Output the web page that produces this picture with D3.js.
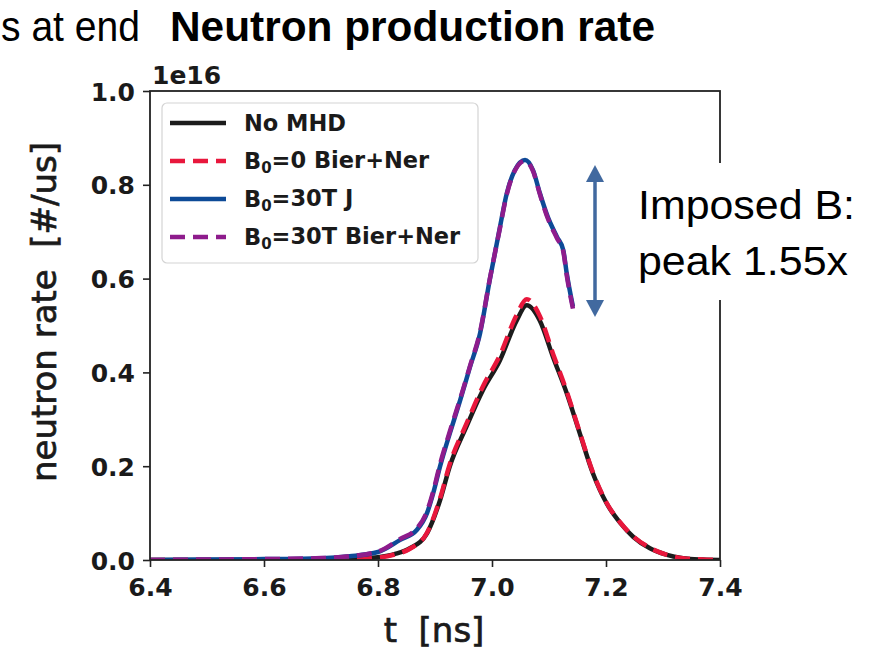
<!DOCTYPE html>
<html>
<head>
<meta charset="utf-8">
<script src="https://cdn.jsdelivr.net/npm/d3@7"></script>
<style>
  html, body { margin: 0; padding: 0; background: #fff; }
  svg { display: block; }
  text { white-space: pre; }
</style>
</head>
<body>
<svg id="chart" width="871" height="651"></svg>
<script>
// Time samples [ns] and neutron rates [1e16 #/us]
const tBase = [6.4, 6.5, 6.6, 6.7, 6.75, 6.8, 6.83, 6.856, 6.886, 6.909, 6.926, 6.955, 6.984, 7.014, 7.043, 7.061, 7.084, 7.107, 7.131, 7.154, 7.177, 7.201, 7.225, 7.248, 7.277, 7.307, 7.335, 7.37, 7.4];
const noMHD = [0, 0, 0.0005, 0.001, 0.002, 0.006, 0.013, 0.025, 0.057, 0.128, 0.2, 0.284, 0.362, 0.426, 0.51, 0.543, 0.51, 0.433, 0.356, 0.27, 0.185, 0.121, 0.079, 0.049, 0.025, 0.011, 0.004, 0.001, 0];
const b0BierNer = [0, 0, 0.0005, 0.001, 0.002, 0.005, 0.012, 0.024, 0.058, 0.132, 0.205, 0.29, 0.37, 0.437, 0.522, 0.556, 0.52, 0.44, 0.36, 0.272, 0.187, 0.122, 0.08, 0.05, 0.026, 0.011, 0.004, 0.001, 0];

const tMHD = [6.4, 6.5, 6.6, 6.7, 6.75, 6.8, 6.839, 6.868, 6.886, 6.897, 6.909, 6.926, 6.944, 6.961, 6.979, 6.996, 7.014, 7.026, 7.04, 7.058, 7.072, 7.084, 7.098, 7.114, 7.125, 7.131, 7.142];
const b30J = [0, 0.001, 0.002, 0.004, 0.008, 0.017, 0.043, 0.064, 0.1, 0.143, 0.2, 0.27, 0.34, 0.41, 0.483, 0.597, 0.71, 0.782, 0.831, 0.853, 0.831, 0.782, 0.731, 0.689, 0.661, 0.612, 0.54];
const b30BierNer = [0, 0.001, 0.002, 0.004, 0.008, 0.018, 0.045, 0.067, 0.104, 0.147, 0.205, 0.274, 0.343, 0.412, 0.486, 0.598, 0.708, 0.78, 0.83, 0.851, 0.829, 0.78, 0.728, 0.686, 0.658, 0.608, 0.536];

const xTicks = [6.4, 6.6, 6.8, 7.0, 7.2, 7.4];
const yTicks = [0.0, 0.2, 0.4, 0.6, 0.8, 1.0];

const seriesNames = ["No MHD", "B0=0 Bier+Ner", "B0=30T J", "B0=30T Bier+Ner"];
const seriesColors = ["#1c1c1c", "#e8173c", "#0d4a97", "#8e1c8c"];
const seriesDash = [null, "15,8", null, "15,8"];

const series = [
  { name: seriesNames[0], t: tBase, v: noMHD },
  { name: seriesNames[1], t: tBase, v: b0BierNer },
  { name: seriesNames[2], t: tMHD, v: b30J },
  { name: seriesNames[3], t: tMHD, v: b30BierNer }
];

const svg = d3.select("#chart");
const plotL = 150, plotR = 720, plotT = 91, plotB = 560;

const x = d3.scaleLinear().domain([6.4, 7.4]).range([plotL, plotR]);
const y = d3.scaleLinear().domain([0, 1.0]).range([plotB, plotT]);

const tickFont = "DejaVu Sans, sans-serif";
const slideFont = "Liberation Sans Narrow, Liberation Sans, sans-serif";

// Slide title text
svg.append("text")
  .attr("x", 1).attr("y", 41)
  .attr("font-family", slideFont)
  .attr("font-size", 42)
  .attr("textLength", 139).attr("lengthAdjust", "spacingAndGlyphs")
  .text("s at end");
svg.append("text")
  .attr("x", 170).attr("y", 41)
  .attr("font-family", slideFont)
  .attr("font-weight", "bold")
  .attr("font-size", 42)
  .attr("textLength", 485).attr("lengthAdjust", "spacingAndGlyphs")
  .text("Neutron production rate");

// Curves
const line = d3.line()
  .x(d => x(d[0]))
  .y(d => y(d[1]))
  .curve(d3.curveMonotoneX);

const plot = svg.append("g");
plot.append("clipPath").attr("id", "clip")
  .append("rect").attr("x", plotL).attr("y", plotT).attr("width", plotR - plotL).attr("height", plotB - plotT);

series.forEach((s, i) => {
  plot.append("path")
    .datum(s.t.map((tt, j) => [tt, s.v[j]]))
    .attr("clip-path", "url(#clip)")
    .attr("fill", "none")
    .attr("stroke", seriesColors[i])
    .attr("stroke-width", 4.5)
    .attr("stroke-dasharray", seriesDash[i])
    .attr("stroke-linejoin", "round")
    .attr("d", line);
});

// Axes
const xAxis = svg.append("g")
  .attr("transform", `translate(0,${plotB})`)
  .call(d3.axisBottom(x).tickValues(xTicks).tickFormat(d3.format(".1f")).tickSize(7).tickPadding(6));
const yAxis = svg.append("g")
  .attr("transform", `translate(${plotL},0)`)
  .call(d3.axisLeft(y).tickValues(yTicks).tickFormat(d3.format(".1f")).tickSize(7).tickPadding(8));

[xAxis, yAxis].forEach(a => {
  a.select(".domain").remove();
  a.selectAll(".tick line").attr("stroke", "#222").attr("stroke-width", 1.6);
  a.selectAll(".tick text")
    .attr("font-family", tickFont)
    .attr("font-weight", "bold")
    .attr("font-size", 25)
    .attr("fill", "#1a1a1a");
});
yAxis.selectAll(".tick text").attr("dy", "0.36em");
xAxis.selectAll(".tick text").attr("dy", "0.92em");

// Frame
svg.append("rect")
  .attr("x", plotL).attr("y", plotT)
  .attr("width", plotR - plotL).attr("height", plotB - plotT)
  .attr("fill", "none").attr("stroke", "#222").attr("stroke-width", 1.8);

// Offset label
svg.append("text")
  .attr("x", 152).attr("y", 84)
  .attr("font-family", tickFont).attr("font-weight", "bold").attr("font-size", 25)
  .attr("fill", "#1a1a1a")
  .text("1e16");

// Axis titles
svg.append("text")
  .attr("x", 434).attr("y", 642)
  .attr("text-anchor", "middle")
  .attr("font-family", tickFont).attr("font-size", 34)
  .attr("fill", "#1a1a1a").attr("stroke", "#1a1a1a").attr("stroke-width", 0.7)
  .text("t  [ns]");
svg.append("text")
  .attr("transform", "translate(56,312) rotate(-90)")
  .attr("text-anchor", "middle")
  .attr("font-family", tickFont).attr("font-size", 34)
  .attr("fill", "#1a1a1a").attr("stroke", "#1a1a1a").attr("stroke-width", 0.7)
  .text("neutron rate  [#/us]");

// Legend
const legend = svg.append("g");
legend.append("rect")
  .attr("x", 162).attr("y", 103).attr("width", 316).attr("height", 160)
  .attr("rx", 5)
  .attr("fill", "#fff").attr("stroke", "#d4d4d4").attr("stroke-width", 1.2);
series.forEach((s, i) => {
  const ly = 123 + i * 38;
  legend.append("line")
    .attr("x1", 170).attr("x2", 226).attr("y1", ly).attr("y2", ly)
    .attr("stroke", seriesColors[i]).attr("stroke-width", 4.5)
    .attr("stroke-dasharray", seriesDash[i]);
  const txt = legend.append("text")
    .attr("x", 244).attr("y", ly).attr("dy", "0.36em")
    .attr("font-family", tickFont).attr("font-weight", "bold").attr("font-size", 22.5)
    .attr("fill", "#1a1a1a");
  if (s.name.startsWith("B0")) {
    txt.append("tspan").text("B");
    txt.append("tspan").attr("font-size", 15).attr("dy", "0.25em").text("0");
    txt.append("tspan").attr("dy", "-0.2em").text(s.name.slice(2));
  } else {
    txt.text(s.name);
  }
});

// Annotation box, arrow and text
svg.append("rect")
  .attr("x", 618).attr("y", 163).attr("width", 253).attr("height", 137)
  .attr("fill", "#fff");

const arrowColor = "#41699f";
const ax = 595, ay1 = y(0.853) + 5, ay2 = y(0.518);
svg.append("line")
  .attr("x1", ax).attr("x2", ax).attr("y1", ay1 + 14).attr("y2", ay2 - 14)
  .attr("stroke", arrowColor).attr("stroke-width", 3.5);
svg.append("path")
  .attr("d", `M${ax},${ay1} L${ax - 9},${ay1 + 17} L${ax + 9},${ay1 + 17} Z`)
  .attr("fill", arrowColor);
svg.append("path")
  .attr("d", `M${ax},${ay2} L${ax - 9},${ay2 - 17} L${ax + 9},${ay2 - 17} Z`)
  .attr("fill", arrowColor);

svg.append("text")
  .attr("x", 638).attr("y", 219)
  .attr("font-family", slideFont)
  .attr("font-size", 41)
  .attr("textLength", 217).attr("lengthAdjust", "spacingAndGlyphs")
  .text("Imposed B:");
svg.append("text")
  .attr("x", 638).attr("y", 275)
  .attr("font-family", slideFont)
  .attr("font-size", 41)
  .attr("textLength", 210).attr("lengthAdjust", "spacingAndGlyphs")
  .text("peak 1.55x");
</script>
</body>
</html>
